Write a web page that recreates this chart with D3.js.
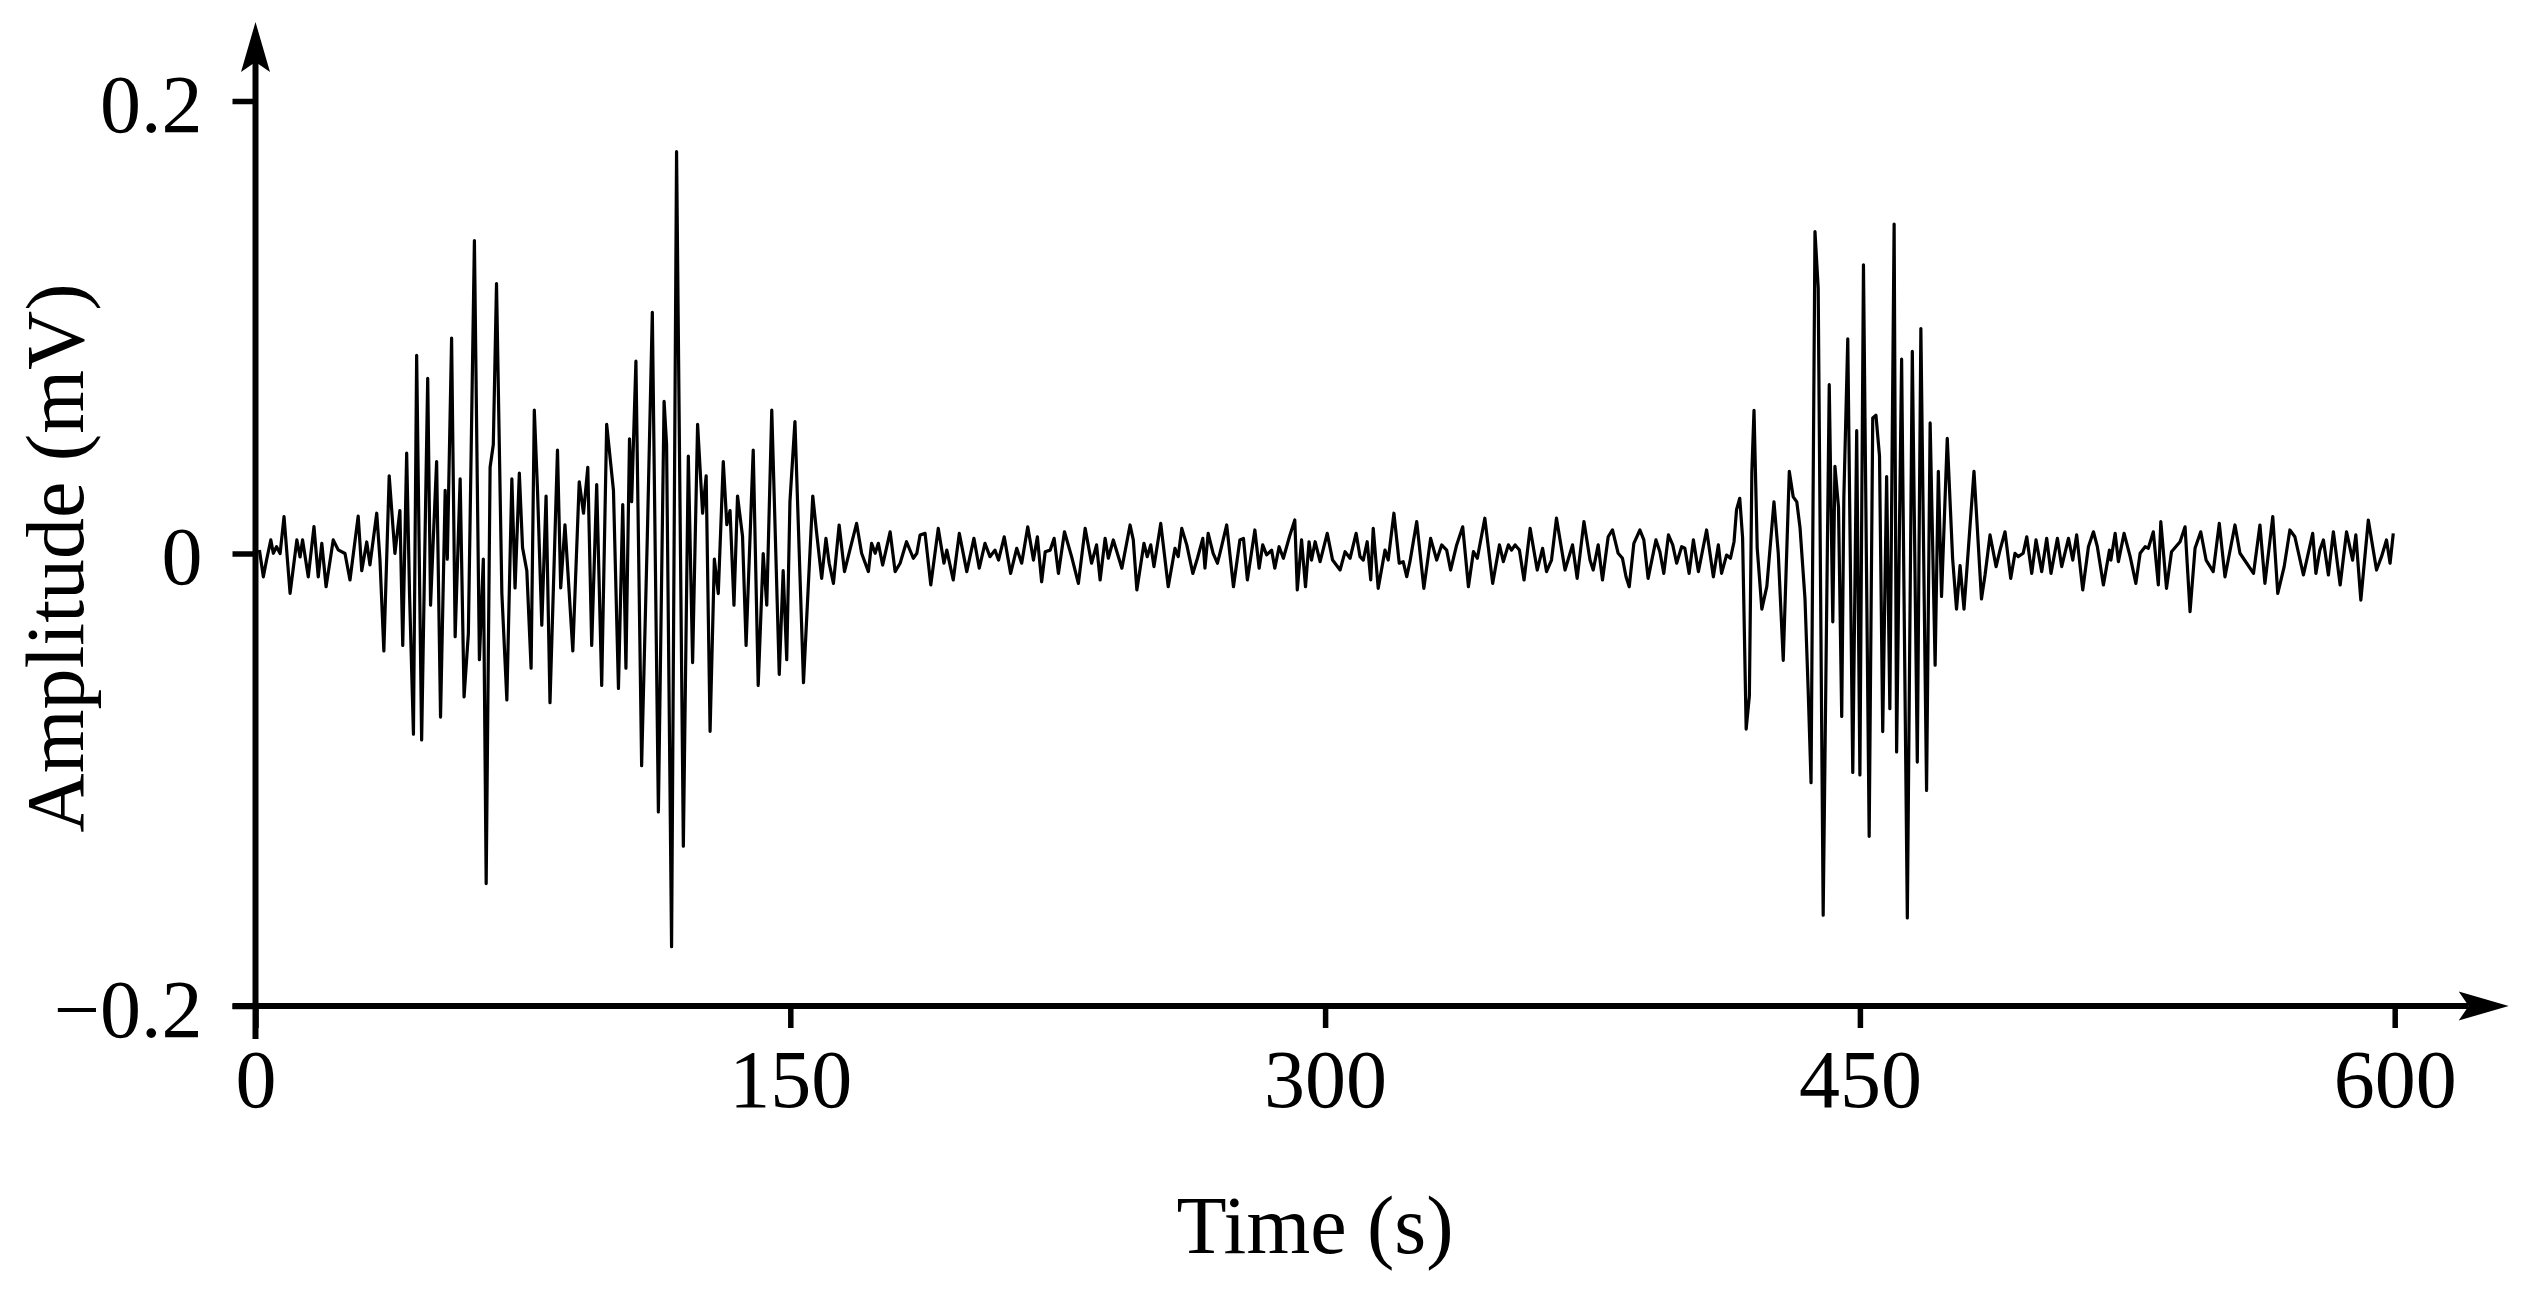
<!DOCTYPE html>
<html>
<head>
<meta charset="utf-8">
<script src="https://cdn.jsdelivr.net/npm/d3@7/dist/d3.min.js"></script>
<style>
  html, body { margin: 0; padding: 0; background: #ffffff; }
  svg { display: block; }
</style>
</head>
<body>
<svg id="chart" width="2534" height="1293"></svg>
<script>
// ---- Data (time in s, amplitude in mV) ----
const xTicks = [0, 150, 300, 450, 600];
const yTicks = [-0.2, 0, 0.2];
const xTitle = "Time (s)";
const yTitle = "Amplitude (mV)";

const leadIn = [
  [1.1,0.0015],[2.2,-0.0103],[3.1,-0.0029],[4.3,0.006],[5.0,0.0001],[5.9,0.003],[6.9,0],
  [8.0,0.0163],[9.7,-0.0176],[11.6,0.006],[12.5,-0.0015],[13.2,0.006],[14.8,-0.0103],
  [16.4,0.0119],[17.6,-0.0103],[18.6,0.0045],[19.8,-0.0147],[21.8,0.006],[23.2,0.0016],
  [25.1,0],[26.5,-0.0117]
];

const burstOne = [
  [28.8,0.0165],[29.8,-0.0076],[31.2,0.0051],[32.1,-0.005],[34.0,0.0178],[34.9,-0.0025],
  [36.0,-0.0431],[37.5,0.0343],[39.1,0],[40.5,0.019],[41.3,-0.0406],[42.4,0.0444],
  [43.2,-0.0177],[44.3,-0.0799],[45.2,0.0876],[46.6,-0.0824],[48.3,0.0774],[49.1,-0.0228],
  [49.9,0.0076],[50.8,0.0406],[51.9,-0.0723],[53.2,0.0279],[53.8,-0.0025],[55.0,0.0952],
  [56.0,-0.0368],[57.4,0.033],[58.5,-0.0634],[59.7,-0.0355],[61.4,0.1383],[62.8,-0.0469],
  [63.9,-0.0025],[64.7,-0.1459],[65.8,0.0381],[66.7,0.0482],[67.6,0.1193],[69.1,-0.0177],
  [70.5,-0.0647],[71.9,0.033],[72.8,-0.0152],[74.0,0.0355],[74.9,0.0026],[76.1,-0.0076],
  [77.3,-0.0507],[78.2,0.0634],[79.1,0.0279],[80.3,-0.0317],[81.5,0.0254],[82.6,-0.0659],
  [84.7,0.0457],[85.6,-0.0152],[86.8,0.0127],[87.7,-0.0101],[89.0,-0.0431],[90.8,0.0317],
  [92.0,0.0178],[93.2,0.0381],[94.3,-0.0406],[95.7,0.0305],[97.1,-0.0583],[98.5,0.0571],
  [100.4,0.0279],[101.8,-0.0596],[103.0,0.0216],[103.9,-0.0507],[104.9,0.0507],[105.5,0.0229],
  [106.7,0.085],[108.3,-0.0938],[109.9,0.0076],[111.3,0.1066],[113.0,-0.1142],[114.6,0.0673],
  [115.3,0.0482],[116.7,-0.1738],[118.1,0.1776],[120.0,-0.1294],[121.4,0.0431],[122.6,-0.0482],
  [124.0,0.0571],[125.4,0.0178],[126.4,0.0343],[127.5,-0.0786],[128.7,-0.0025],[129.8,-0.0177],
  [131.2,0.0406],[132.2,0.0127],[133.1,0.019],[134.2,-0.0228],[135.2,0.0254],[136.6,0.0076],
  [137.6,-0.0406],[139.6,0.0457],[141.0,-0.0583],[142.4,0],[143.4,-0.0228],[144.8,0.0634],
  [146.9,-0.0534],[148.0,-0.0076],[149.0,-0.0469],[149.9,0.0229],[151.3,0.0583],[153.7,-0.0571],
  [156.3,0.0254]
];

const quietA = [
  [157.4,0.0089],[158.8,-0.011],[160.0,0.0067],[160.9,-0.0043],[162.1,-0.0132],[163.7,0.0126],
  [165.2,-0.008],[166.7,0.0015],[168.6,0.0133],[170.0,0.0001],[171.9,-0.008],[172.8,0.0045],
  [173.8,0.0001],[174.7,0.0045],[175.9,-0.0051],[178.0,0.0096],[179.4,-0.008],[180.8,-0.0043],
  [182.6,0.0052],[184.5,-0.0021],[185.5,0.0001],[186.4,0.0082],[187.8,0.0089],[189.4,-0.0139],
  [191.5,0.0111],[193.1,-0.0043],[193.9,0.0015],[195.7,-0.0117],[197.4,0.0089],[199.5,-0.008],
  [201.5,0.0067],[203.0,-0.0065],[204.6,0.0045],[206.0,-0.0014],[207.4,0.0015],[208.4,-0.0029],
  [210.0,0.0074],[211.8,-0.0088],[213.5,0.0023],[214.9,-0.0043],[216.6,0.0118],[218.2,-0.0029],
  [219.3,0.0074],[220.5,-0.0125],[221.5,0.0008],[222.9,0.0015],[224.0,0.0067],[225.2,-0.0088],
  [226.9,0.0096],[228.9,-0.0014],[230.8,-0.0132],[232.7,0.0111],[234.5,-0.0043],[235.9,0.0038],
  [236.9,-0.0117],[238.3,0.0067],[239.2,-0.0021],[240.6,0.006],[243.0,-0.0065],[245.3,0.0126],
  [246.2,0.006],[247.2,-0.0161]
];

const quietB = [
  [249.2,0.0045],[250.1,-0.0014],[251.1,0.0038],[252.0,-0.0058],[253.9,0.0133],[256.0,-0.0147],
  [257.9,0.0023],[258.8,-0.0014],[259.8,0.0111],[261.2,0.0038],[262.9,-0.0088],[264.2,-0.0021],
  [265.7,0.0067],[266.3,-0.0065],[267.2,0.0089],[268.6,0.0001],[269.8,-0.0043],[270.5,0.0001],
  [272.4,0.0126],[274.3,-0.0147],[276.1,0.006],[277.1,0.0067],[278.2,-0.0117],[280.3,0.0104],
  [281.5,-0.0065],[282.5,0.0038],[283.6,-0.0006],[285.0,0.0015],[285.9,-0.0065],[287.1,0.003],
  [288.3,-0.0021],[290.0,0.0074],[291.5,0.0148],[292.2,-0.0161],[293.4,0.006],[294.5,-0.0147],
  [295.5,0.0052],[296.2,-0.0029],[297.2,0.0052],[298.6,-0.0036],[300.6,0.0089],[302.1,-0.0029],
  [304.2,-0.0073],[305.6,0.0008],[307.0,-0.0021],[308.7,0.0089],[309.8,-0.0014],[310.7,-0.0029],
  [311.8,0.0052],[312.8,-0.0117],[313.5,0.0111],[314.9,-0.0154],[316.8,0.0015],[317.7,-0.0029],
  [319.3,0.0178],[320.8,-0.0043],[321.9,-0.0036],[322.9,-0.0102],[323.8,-0.0036],[325.7,0.0141],
  [327.7,-0.0154],[329.6,0.0067],[331.3,-0.0029],[332.7,0.0038],[334.1,0.0015],[335.2,-0.0073],
  [336.9,0.0038],[338.6,0.0118],[340.2,-0.0147],[341.6,0.0008],[342.7,-0.0021],[344.8,0.0156]
];

const quietC = [
  [347.0,-0.0132],[348.9,0.0038],[350.0,-0.0036],[351.4,0.0038],[352.3,0.0015],[353.3,0.0038],
  [354.5,0.0015],[355.8,-0.0117],[357.5,0.0111],[359.5,-0.0073],[361.0,0.0023],[362.1,-0.008],
  [363.5,-0.0029],[364.9,0.0156],[367.3,-0.0073],[369.4,0.0038],[370.7,-0.011],[372.6,0.0141],
  [374.3,-0.0029],[375.2,-0.0073],[376.6,0.0038],[377.8,-0.0117],[379.4,0.0074],[380.6,0.0104],
  [382.2,0.0001],[383.4,-0.0021],[384.4,-0.0103],[385.3,-0.0147],[386.6,0.0045],[388.3,0.0104],
  [389.4,0.006],[390.6,-0.011],[392.8,0.006],[393.9,0.0008],[395.0,-0.0088],[396.3,0.0082],
  [397.5,0.0038],[398.6,-0.0043],[400.0,0.003],[400.9,0.0023],[402.1,-0.0088],[403.3,0.006],
  [404.7,-0.008],[407.0,0.0104],[408.9,-0.0103],[410.3,0.0038],[411.2,-0.0088],[412.6,-0.0007],
  [413.7,-0.0021],[414.7,0.0052],[415.4,0.0194],[416.3,0.0244]
];

const burstTwo = [
  [417.1,0.0069],[418.1,-0.0776],[419.0,-0.0629],[419.7,0.0363],[420.3,0.0633],[421.2,0.0024],
  [422.5,-0.0246],[423.9,-0.0145],[425.9,0.0228],[427.1,0.0002],[428.5,-0.0472],[430.2,0.0363],
  [431.3,0.025],[432.3,0.0228],[433.2,0.0115],[434.6,-0.0201],[435.5,-0.0607],[436.3,-0.1013],
  [437.4,0.1423],[438.3,0.1174],[439.7,-0.1599],[441.4,0.0746],[442.4,-0.0302],[443.0,0.0385],
  [444.0,0.0205],[444.9,-0.072],[445.5,0.025],[446.6,0.0949],[448.0,-0.0968],[449.1,0.0543],
  [450.0,-0.0979],[451.0,0.1276],[452.6,-0.125],[453.6,0.0599],[454.5,0.0611],[455.5,0.043],
  [456.4,-0.0787],[457.5,0.034],[458.4,-0.0686],[459.6,0.1456],[460.3,-0.0877],[461.7,0.0859],
  [463.3,-0.1611],[464.7,0.0893],[466.1,-0.0922],[467.1,0.0994],[468.7,-0.1047],[469.7,0.0577],
  [471.1,-0.0494],[472.0,0.0363],[472.9,-0.019],[474.5,0.0509],[476.0,-0.0021],[477.1,-0.0246],
  [478.1,-0.0054],[479.2,-0.0246],[482.0,0.0363],[484.1,-0.0201]
];

const tail = [
  [485.1,-0.0095],[486.5,0.0082],[488.2,-0.0058],[489.3,0.0015],[490.7,0.0096],[492.3,-0.011],
  [493.5,0.0001],[494.4,-0.0014],[495.8,0.0001],[496.8,0.0074],[498.2,-0.0088],[499.4,0.006],
  [501.0,-0.008],[502.4,0.0067],[503.6,-0.0088],[505.4,0.0067],[506.6,-0.0058],[508.5,0.0067],
  [509.7,-0.0029],[510.8,0.0082],[512.5,-0.0161],[514.1,0.003],[515.5,0.0096],[516.6,0.003],
  [518.3,-0.0139],[520.0,0.0015],[520.4,-0.0029],[521.6,0.0089],[522.5,-0.0036],[524.1,0.0089],
  [525.8,-0.0014],[527.4,-0.0132],[528.6,0.0001],[530.0,0.003],[530.9,0.0023],[532.3,0.0096],
  [533.7,-0.0139],[534.4,0.0141],[536.0,-0.0154],[537.4,0.0008],[539.8,0.0052],[541.2,0.0118],
  [542.6,-0.0257],[544.0,0.0023],[545.6,0.0096],[547.1,-0.0029],[549.1,-0.008],[550.8,0.0133],
  [552.4,-0.0103],[555.2,0.0126],[556.6,0.0001],[558.5,-0.0043],[560.4,-0.0088],[562.2,0.0126],
  [563.6,-0.0132],[565.8,0.0163],[567.2,-0.0176],[569.0,-0.0058],[570.6,0.0104],[572.0,0.0074],
  [574.4,-0.0095],[577.0,0.0089],[577.9,-0.0088],[579.0,0.0015],[580.0,0.006],[581.4,-0.0095],
  [582.8,0.0096],[584.7,-0.0139],[586.5,0.0096],[588.2,-0.0029],[589.1,0.0082],[590.5,-0.0206],
  [592.6,0.0148],[594.9,-0.0073],[596.3,-0.0014],[597.7,0.006],[598.7,-0.0043],[599.6,0.0089]
];

const signal = [].concat(leadIn, burstOne, quietA, quietB, quietC, burstTwo, tail);

// ---- Layout ----
const FONT = "'Liberation Serif', 'Times New Roman', 'DejaVu Serif', serif";
const svg = d3.select("#chart");
const x = d3.scaleLinear().domain([0, 600]).range([255.5, 2394.7]);
const y = d3.scaleLinear().domain([-0.2, 0.2]).range([1006, 101]);

const fmt = d => d < 0 ? "\u2212" + Math.abs(d) : String(d);

// signal line
svg.append("path")
  .datum(signal)
  .attr("fill", "none")
  .attr("stroke", "#000")
  .attr("stroke-width", 3.2)
  .attr("stroke-linejoin", "round")
  .attr("d", d3.line().x(d => x(d[0])).y(d => y(d[1])));

// y axis (ticks + labels)
const gy = svg.append("g")
  .attr("transform", `translate(${x(0)},0)`)
  .call(d3.axisLeft(y).tickValues(yTicks).tickSize(23).tickPadding(30).tickFormat(fmt));
gy.select(".domain").remove();
gy.selectAll(".tick line").attr("stroke", "#000").attr("stroke-width", 5.5);
gy.selectAll(".tick text")
  .attr("fill", "#000").attr("dy", "0.37em")
  .style("font-family", FONT).style("font-size", "82px");

// x axis (ticks + labels)
const gx = svg.append("g")
  .attr("transform", `translate(0,${y(-0.2)})`)
  .call(d3.axisBottom(x).tickValues(xTicks).tickSize(22).tickPadding(21).tickFormat(fmt));
gx.select(".domain").remove();
gx.selectAll(".tick line").attr("stroke", "#000").attr("stroke-width", 5.5);
gx.selectAll(".tick text")
  .attr("fill", "#000")
  .style("font-family", FONT).style("font-size", "82px");

// axis lines with arrows
const x0 = x(0), yb = y(-0.2), yTopTick = y(0.2);
const yTip = yTopTick - 79, xTip = x(600) + 114;
svg.append("line")
  .attr("x1", x0).attr("x2", x0).attr("y1", yb + 33).attr("y2", yTip + 40)
  .attr("stroke", "#000").attr("stroke-width", 6);
svg.append("line")
  .attr("x1", x0 - 23).attr("x2", xTip - 40).attr("y1", yb).attr("y2", yb)
  .attr("stroke", "#000").attr("stroke-width", 6);
svg.append("path")
  .attr("d", `M${x0},${yTip} L${x0 - 14.5},${yTip + 50} L${x0},${yTip + 40} L${x0 + 14.5},${yTip + 50} Z`)
  .attr("fill", "#000");
svg.append("path")
  .attr("d", `M${xTip},${yb} L${xTip - 50},${yb - 14.5} L${xTip - 40},${yb} L${xTip - 50},${yb + 14.5} Z`)
  .attr("fill", "#000");

// titles
svg.append("text")
  .attr("x", 1315).attr("y", 1253)
  .attr("text-anchor", "middle")
  .style("font-family", FONT).style("font-size", "82px")
  .text(xTitle);
svg.append("text")
  .attr("transform", "translate(83,558) rotate(-90)")
  .attr("text-anchor", "middle")
  .style("font-family", FONT).style("font-size", "82px")
  .text(yTitle);
</script>
</body>
</html>
